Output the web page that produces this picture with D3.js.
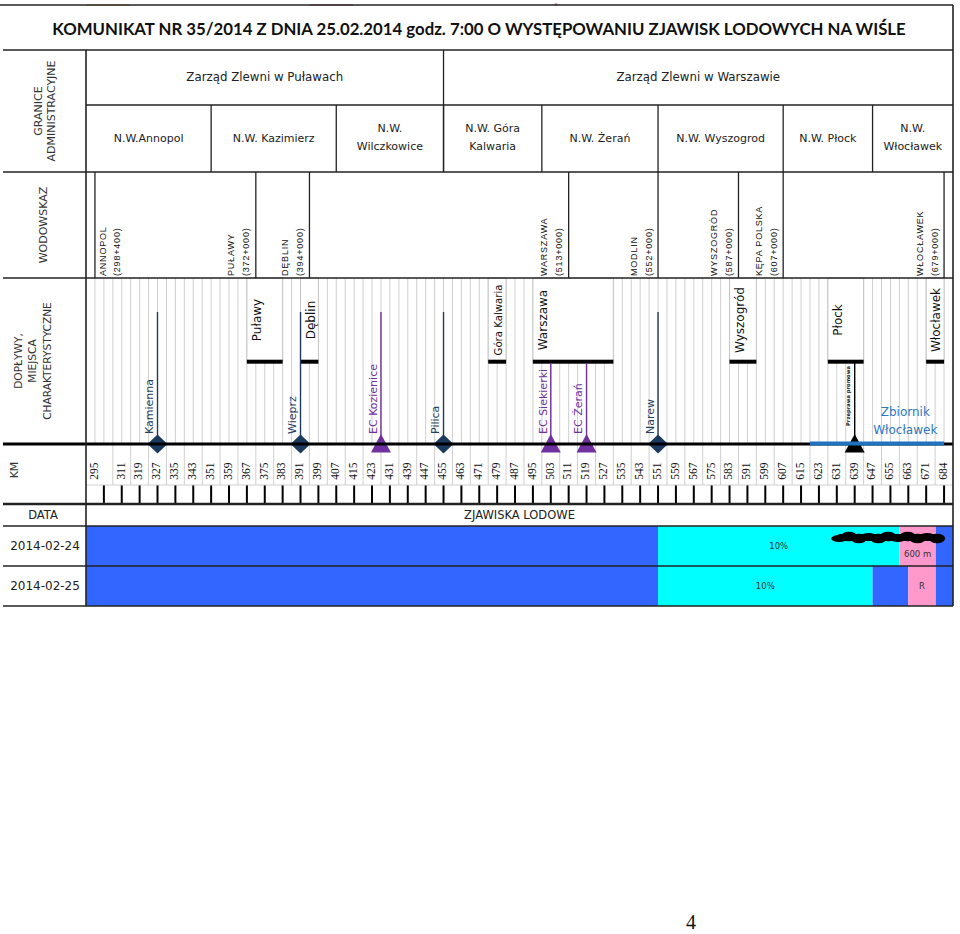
<!DOCTYPE html>
<html><head><meta charset="utf-8">
<script src="https://cdn.jsdelivr.net/npm/d3@7"></script>
<style>body{margin:0;background:#fff}svg{display:block}</style>
</head><body>
<script>
// ---------------- DATA ----------------
const title = "KOMUNIKAT NR 35/2014 Z DNIA 25.02.2014 godz. 7:00 O WYSTĘPOWANIU ZJAWISK LODOWYCH NA WIŚLE";
const kmTicks = [295,311,319,327,335,343,351,359,367,375,383,391,399,407,415,423,431,439,447,455,463,471,479,487,495,503,511,519,527,535,543,551,559,567,575,583,591,599,607,615,623,631,639,647,655,663,671,684];
const KM_MIN = 287, KM_MAX = 690;

const zarzadNames = ["Zarząd Zlewni w Puławach","Zarząd Zlewni w Warszawie"];
const zarzadBreaks = [455];
const nwNames = ["N.W.Annopol","N.W. Kazimierz","N.W.|Wilczkowice","N.W. Góra|Kalwaria","N.W. Żerań","N.W. Wyszogrod","N.W. Płock","N.W.|Włocławek"];
const nwBreaks = [351,407,455,499,551,607,647];

const gaugeNames = ["ANNOPOL","PUŁAWY","DĘBLIN","WARSZAWA","MODLIN","WYSZOGRÓD","KĘPA POLSKA","WŁOCŁAWEK"];
const gaugeKm = ["(298+400)","(372+000)","(394+000)","(513+000)","(552+000)","(587+000)","(607+000)","(679+000)"];
const gaugeLines = [295,371,395,511,551,587,607,684];

const cityNames = ["Puławy","Dęblin","Góra Kalwaria","Warszawa","Wyszogród","Płock","Włocławek"];
const cityFrom = [367,391,475,495,583,627,671];
const cityTo   = [383,399,483,531,595,643,684];

const tribNames = ["Kamienna","Wieprz","EC Kozienice","Pilica","EC Siekierki","EC Żerań","Narew","Przeprawa promowa"];
const tribKm    = [327,391,427,455,503,519,551,639];
const tribType  = ["river","river","plant","river","plant","plant","river","crossing"];

const reservoirName = ["Zbiornik","Włocławek"];
const reservoirFrom = 619, reservoirTo = 684, reservoirLabelKm = 663;

const dates = ["2014-02-24","2014-02-25"];
const iceFrom  = [[KM_MIN,551,659,678],[KM_MIN,551,647,663,678]];
const iceTo    = [[551,659,678,KM_MAX],[551,647,663,678,KM_MAX]];
const iceKind  = [["none","p10","zator","none"],["none","p10","none","zator","none"]];
const iceLabel = [["","10%","600 m",""],["","10%","","R",""]];

// ---------------- LAYOUT ----------------
const W = 960, H = 934;
const L = 86, R = 953;
const yTitleTop = 5, yAdmin = 50, yNW = 105, yGauge = 172, yTrib = 278, yMain = 444, yKmMid = 485, yKmEnd = 504, yDataHdr = 526, yRows = [526,566,606];
const sans = "'DejaVu Sans', Verdana, sans-serif";
const ink = "#222";

const svg = d3.select("body").append("svg").attr("width", W).attr("height", H)
  .style("font-family", sans);
svg.append("rect").attr("width", W).attr("height", H).attr("fill", "#fff");

// index scale: column index -> px
const xIdx = d3.scaleLinear().domain([-1, 47.5]).range([L, R]);
const idxRange = [-1, -0.5].concat(d3.range(1, kmTicks.length)).concat([kmTicks.length - 0.5]);
const x = d3.scaleLinear().domain([KM_MIN].concat(kmTicks).concat([KM_MAX])).range(idxRange.map(xIdx));

function vtext(g, px, py, str, anchor) {
  return g.append("text").attr("transform", `translate(${px},${py}) rotate(-90)`)
    .attr("text-anchor", anchor || "middle").attr("dy", "0.35em").text(str);
}
function fitMax(sel, w) {
  const n = sel.node(), len = n.getComputedTextLength();
  if (len > w) sel.attr("font-size", parseFloat(sel.attr("font-size")) * w / len);
}

// top artifacts
svg.append("line").attr("x1", 86).attr("x2", 130).attr("y1", 5).attr("y2", 5).attr("stroke", "#e9c9a0").attr("stroke-width", 2);
svg.append("line").attr("x1", 310).attr("x2", 353).attr("y1", 5).attr("y2", 5).attr("stroke", "#e3a7bb").attr("stroke-width", 2);
svg.append("text").attr("x", 556).attr("y", 8).attr("text-anchor", "middle").attr("font-size", 7).attr("fill", "#d02020").text("*");

// ---------------- TRIB ROW GRID ----------------
const gGrid = svg.append("g").attr("stroke", "#cfcfcf").attr("stroke-width", 1);
d3.range(-0.5, 47.01, 0.5).forEach(i => {
  gGrid.append("line").attr("x1", xIdx(i)).attr("x2", xIdx(i)).attr("y1", yTrib).attr("y2", yMain);
});
d3.range(0.5, 46.6, 1).forEach(i => {
  gGrid.append("line").attr("x1", xIdx(i)).attr("x2", xIdx(i)).attr("y1", yMain).attr("y2", yKmMid);
});

// city boxes
const gCity = svg.append("g");
cityNames.forEach((nm, i) => {
  const x0 = x(cityFrom[i]), x1 = x(cityTo[i]);
  gCity.append("rect").attr("x", x0).attr("y", yTrib).attr("width", x1 - x0).attr("height", 362 - yTrib)
    .attr("fill", "#fff").attr("stroke", "#c4c4c4").attr("stroke-width", 1);
  gCity.append("rect").attr("x", x0).attr("y", 359.7).attr("width", x1 - x0).attr("height", 4).attr("fill", "#000");
  const t = vtext(gCity, x0 + 0.55 * (xIdx(1) - xIdx(0)), 320, nm).attr("font-size", 12).attr("fill", "#111");
  fitMax(t, 71);
});

// tributary lines
const gTrib = svg.append("g");
const colorOf = t => t === "plant" ? "#7030a0" : t === "crossing" ? "#000" : "#1f3a60";
tribNames.forEach((nm, i) => {
  const k = tribKm[i];
  const inCity = cityNames.some((c, j) => k > cityFrom[j] && k < cityTo[j]);
  const px = x(k);
  gTrib.append("line").attr("x1", px).attr("x2", px).attr("y1", inCity ? 363 : 312).attr("y2", yMain)
    .attr("stroke", colorOf(tribType[i])).attr("stroke-width", 1.4);
});

// main river line
svg.append("line").attr("x1", 3).attr("x2", R).attr("y1", yMain).attr("y2", yMain).attr("stroke", "#000").attr("stroke-width", 3);
// reservoir
svg.append("line").attr("x1", x(reservoirFrom)).attr("x2", x(reservoirTo)).attr("y1", yMain - 0.5).attr("y2", yMain - 0.5)
  .attr("stroke", "#1f72bd").attr("stroke-width", 4);
const resX = x(reservoirLabelKm) - 3;
svg.append("text").attr("x", resX).attr("y", 416).attr("text-anchor", "middle").attr("font-size", 12).attr("fill", "#2f78bf").text(reservoirName[0]);
svg.append("text").attr("x", resX).attr("y", 434).attr("text-anchor", "middle").attr("font-size", 12).attr("fill", "#2f78bf").text(reservoirName[1]);

// markers + labels
tribNames.forEach((nm, i) => {
  const px = x(tribKm[i]), t = tribType[i], c = colorOf(t);
  if (t === "river") {
    gTrib.append("path").attr("d", `M${px},${yMain - 9.5} L${px + 10},${yMain} L${px},${yMain + 9.5} L${px - 10},${yMain} Z`).attr("fill", "#1b3a5e");
  } else {
    gTrib.append("path").attr("d", `M${px},${yMain - 10} L${px + 10},${yMain + 8.5} L${px - 10},${yMain + 8.5} Z`).attr("fill", c);
  }
  if (t === "crossing") {
    vtext(gTrib, px - 7, 396, nm).attr("font-size", 5.2).attr("font-weight", "bold").attr("fill", "#111");
  } else {
    vtext(gTrib, px - 8, 434, nm, "start").attr("font-size", 11).attr("fill", t === "plant" ? "#7030a0" : "#243f60");
  }
});

// ---------------- KM AXIS ----------------
const gKm = svg.append("g");
kmTicks.forEach(k => {
  vtext(gKm, x(k) - 1.2, 471, k).attr("font-size", 11.5).attr("font-family", "'Liberation Serif', 'DejaVu Serif', serif").attr("fill", "#111");
});
svg.append("line").attr("x1", L).attr("x2", R).attr("y1", yKmMid).attr("y2", yKmMid).attr("stroke", "#cfcfcf").attr("stroke-width", 1);
d3.range(0, 48).forEach(i => {
  gKm.append("line").attr("x1", xIdx(i)).attr("x2", xIdx(i)).attr("y1", yKmMid).attr("y2", yKmEnd).attr("stroke", "#000").attr("stroke-width", 2);
});

// ---------------- ICE DATA ROWS ----------------
const iceColor = {none: "#3366ff", p10: "#00ffff", zator: "#ff99cc"};
const gIce = svg.append("g");
dates.forEach((d, r) => {
  const y0 = yRows[r], y1 = yRows[r + 1], yc = (y0 + y1) / 2;
  iceFrom[r].forEach((f, j) => {
    const x0 = x(f), x1 = x(iceTo[r][j]);
    gIce.append("rect").attr("x", x0).attr("y", y0).attr("width", x1 - x0).attr("height", y1 - y0).attr("fill", iceColor[iceKind[r][j]]);
    if (iceLabel[r][j]) {
      const dy = (iceKind[r][j] === "zator" && r === 0) ? 8 : 0;
      gIce.append("text").attr("x", (x0 + x1) / 2).attr("y", yc + dy).attr("dy", "0.35em").attr("text-anchor", "middle")
        .attr("font-size", 8.5).attr("fill", "#333").text(iceLabel[r][j]);
    }
  });
  svg.append("text").attr("x", 45).attr("y", yc).attr("dy", "0.35em").attr("text-anchor", "middle").attr("font-size", 12).attr("fill", ink).text(d);
});
// redaction blob over first row
const blob = svg.append("g").attr("fill", "#000");
const bx0 = x(628.5), bx1 = x(684) + 1, by = 537.5;
blob.append("rect").attr("x", bx0 + 6).attr("y", by - 3.5).attr("width", bx1 - bx0 - 12).attr("height", 7).attr("rx", 3);
d3.range(0, 1.001, 0.1).forEach((t, i) => {
  blob.append("ellipse").attr("cx", bx0 + 8 + t * (bx1 - bx0 - 16)).attr("cy", by + (i % 2 ? -1 : 1))
    .attr("rx", 8).attr("ry", i % 3 ? 4.8 : 3.6);
});

// ---------------- TABLE LINES ----------------
const gL = svg.append("g").attr("stroke", ink).attr("stroke-width", 1.3);
function hl(y, x0, x1, w) { gL.append("line").attr("x1", x0).attr("x2", x1).attr("y1", y).attr("y2", y).attr("stroke-width", w || 1.3); }
function vl(xp, y0, y1, w) { gL.append("line").attr("x1", xp).attr("x2", xp).attr("y1", y0).attr("y2", y1).attr("stroke-width", w || 1.3); }
hl(yTitleTop, 0, R);
vl(R, yTitleTop, yRows[2], 1.6);
hl(yAdmin, 3, R);
vl(L, yAdmin, yRows[2], 1.6);
hl(yNW, L, R);
zarzadBreaks.forEach(k => vl(x(k), yAdmin, yGauge));
nwBreaks.forEach(k => vl(x(k), yNW, yGauge));
hl(yGauge, 3, R);
gaugeLines.forEach(k => vl(x(k), yGauge, yTrib));
hl(yTrib, 3, R);
hl(yKmEnd, 3, R, 2.5);
hl(yDataHdr, 3, R, 1.5);
hl(yRows[1], 3, R, 1.5);
hl(yRows[2], 3, R, 1.5);

// ---------------- HEADER TEXT ----------------
const tt = svg.append("text").attr("x", 479).attr("y", 35).attr("text-anchor", "middle")
  .attr("font-family", "Lato, 'Open Sans', sans-serif").attr("font-weight", "bold").attr("font-size", 18).attr("fill", "#111").text(title);
{ const len = tt.node().getComputedTextLength(); tt.attr("font-size", 18 * 854 / len); }

const zEdges = [KM_MIN].concat(zarzadBreaks).concat([KM_MAX]);
zarzadNames.forEach((nm, i) => {
  svg.append("text").attr("x", (x(zEdges[i]) + x(zEdges[i + 1])) / 2).attr("y", 77).attr("dy", "0.35em")
    .attr("text-anchor", "middle").attr("font-size", 11.8).attr("fill", ink).text(nm);
});
const nEdges = [KM_MIN].concat(nwBreaks).concat([KM_MAX]);
nwNames.forEach((nm, i) => {
  const cx = (x(nEdges[i]) + x(nEdges[i + 1])) / 2;
  const parts = nm.split("|");
  parts.forEach((p, j) => {
    const yy = parts.length === 1 ? 138 : (j === 0 ? 128.5 : 146.5);
    svg.append("text").attr("x", cx).attr("y", yy).attr("dy", "0.35em").attr("text-anchor", "middle")
      .attr("font-size", 11).attr("fill", ink).text(p);
  });
});

// gauges
const gG = svg.append("g").attr("font-family", "'Liberation Sans', Arial, sans-serif").attr("font-size", 9)
  .attr("letter-spacing", 0.8).attr("fill", "#111");
gaugeNames.forEach((nm, i) => {
  const lx = x(gaugeLines[i]);
  const x1 = i === 0 ? lx + 7.5 : lx - 24.5;
  const x2 = i === 0 ? lx + 21.5 : lx - 9.5;
  vtext(gG, x1, 276, nm, "start");
  vtext(gG, x2, 276, gaugeKm[i], "start");
});

// left column labels
const gLeft = svg.append("g").attr("fill", "#333").attr("font-size", 11);
vtext(gLeft, 38, 111, "GRANICE");
vtext(gLeft, 51, 111, "ADMINISTRACYJNE");
vtext(gLeft, 43.5, 225, "WODOWSKAZ");
vtext(gLeft, 18, 361, "DOPŁYWY,").attr("font-size", 10.6);
vtext(gLeft, 32.5, 361, "MIEJSCA").attr("font-size", 10.6);
vtext(gLeft, 47, 361, "CHARAKTERYSTYCZNE").attr("font-size", 10.6);
vtext(gLeft, 14, 470, "KM").attr("font-size", 11);
svg.append("text").attr("x", 43).attr("y", 515).attr("dy", "0.35em").attr("text-anchor", "middle").attr("font-size", 11.5).attr("fill", ink).text("DATA");
svg.append("text").attr("x", (L + R) / 2).attr("y", 515).attr("dy", "0.35em").attr("text-anchor", "middle").attr("font-size", 11.5).attr("fill", ink).text("ZJAWISKA LODOWE");

// page number
svg.append("text").attr("x", 691).attr("y", 929).attr("text-anchor", "middle").attr("font-family", "'Liberation Serif', serif").attr("font-size", 20).attr("fill", "#111").text("4");
</script>
</body></html>
